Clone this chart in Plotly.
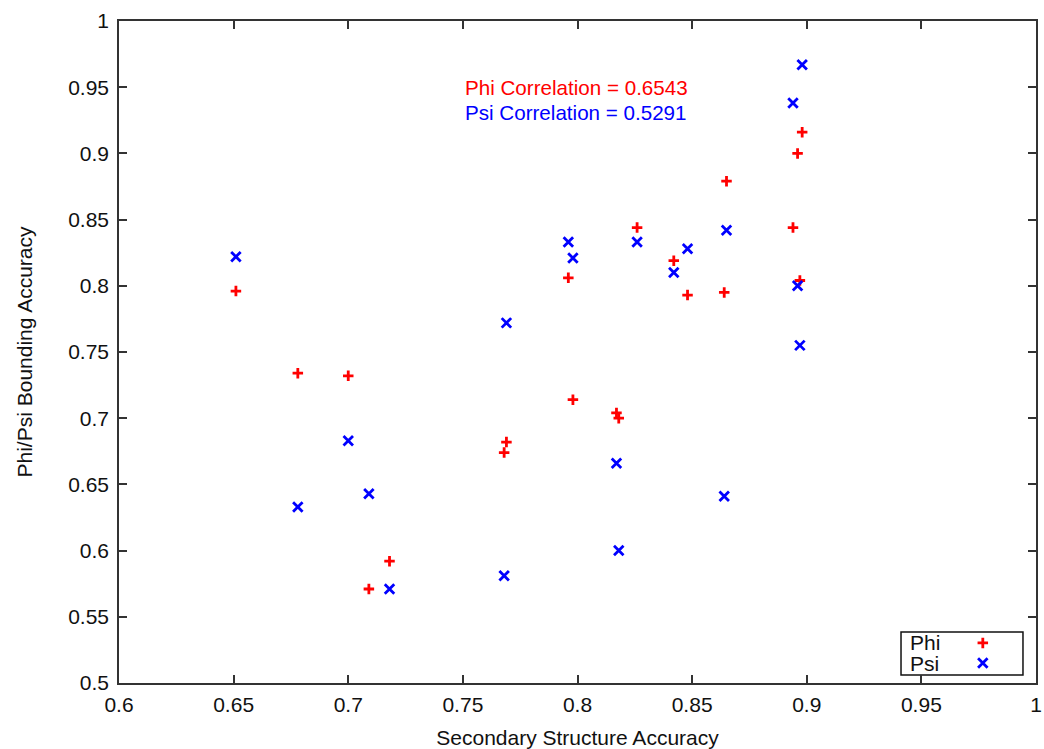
import plotly.graph_objects as go

# Secondary structure accuracy per protein (shared by both series)
phi_x = [0.651, 0.678, 0.700, 0.709, 0.718, 0.768, 0.769, 0.796, 0.798, 0.817,
         0.818, 0.826, 0.842, 0.848, 0.864, 0.865, 0.894, 0.896, 0.897, 0.898]
phi_y = [0.796, 0.734, 0.732, 0.571, 0.592, 0.674, 0.682, 0.806, 0.714, 0.704,
         0.700, 0.844, 0.819, 0.793, 0.795, 0.879, 0.844, 0.900, 0.804, 0.916]

psi_x = [0.651, 0.678, 0.700, 0.709, 0.718, 0.768, 0.769, 0.796, 0.798, 0.817,
         0.818, 0.826, 0.842, 0.848, 0.864, 0.865, 0.894, 0.896, 0.897, 0.898]
psi_y = [0.822, 0.633, 0.683, 0.643, 0.571, 0.581, 0.772, 0.833, 0.821, 0.666,
         0.600, 0.833, 0.810, 0.828, 0.641, 0.842, 0.938, 0.800, 0.755, 0.967]

x_ticks = [0.6, 0.65, 0.7, 0.75, 0.8, 0.85, 0.9, 0.95, 1.0]
x_labels = ["0.6", "0.65", "0.7", "0.75", "0.8", "0.85", "0.9", "0.95", "1"]
y_ticks = [0.5, 0.55, 0.6, 0.65, 0.7, 0.75, 0.8, 0.85, 0.9, 0.95, 1.0]
y_labels = ["0.5", "0.55", "0.6", "0.65", "0.7", "0.75", "0.8", "0.85", "0.9", "0.95", "1"]

phi_corr = 0.6543
psi_corr = 0.5291

RED = "#ff0000"
BLUE = "#0000ff"
AXIS = "#333333"
TEXT = "#111111"
FONT = "Liberation Sans, Arial, sans-serif"
FS = 21

phi_marker = dict(symbol="cross-thin", size=7.5, line=dict(color=RED, width=2.8))
psi_marker = dict(symbol="x-thin", size=9.5, line=dict(color=BLUE, width=2.8))

fig = go.Figure()
fig.add_trace(go.Scatter(x=phi_x, y=phi_y, mode="markers", name="Phi",
                         marker=phi_marker, showlegend=False))
fig.add_trace(go.Scatter(x=psi_x, y=psi_y, mode="markers", name="Psi",
                         marker=psi_marker, showlegend=False))

# Key samples live on an overlay axis spanning the plot area in [0, 1]
key_x = 0.942
key_rows = [0.0605, 0.0302]
fig.add_trace(go.Scatter(x=[key_x], y=[key_rows[0]], mode="markers", marker=phi_marker,
                         xaxis="x2", yaxis="y2", showlegend=False, hoverinfo="skip"))
fig.add_trace(go.Scatter(x=[key_x], y=[key_rows[1]], mode="markers", marker=psi_marker,
                         xaxis="x2", yaxis="y2", showlegend=False, hoverinfo="skip"))

axis_common = dict(
    showgrid=False, zeroline=False, showline=True, linecolor=AXIS, linewidth=1.5,
    mirror="ticks", ticks="inside", ticklen=8, tickwidth=1.5, tickcolor=AXIS,
    tickfont=dict(family=FONT, size=FS, color=TEXT), automargin=False,
)

fig.update_layout(
    width=1044, height=749,
    margin=dict(l=119, r=8, t=21, b=66, autoexpand=False),
    paper_bgcolor="white", plot_bgcolor="white",
    font=dict(family=FONT, size=FS, color=TEXT),
    xaxis=dict(range=[0.6, 1.0], tickvals=x_ticks, ticktext=x_labels,
               title=dict(text="Secondary Structure Accuracy", standoff=16,
                          font=dict(family=FONT, size=FS, color=TEXT)),
               ticklabelstandoff=2, **axis_common),
    yaxis=dict(range=[0.5, 1.0], tickvals=y_ticks, ticktext=y_labels,
               title=dict(text="Phi/Psi Bounding Accuracy", standoff=30,
                          font=dict(family=FONT, size=FS, color=TEXT)),
               ticklabelstandoff=4, **axis_common),
    xaxis2=dict(range=[0, 1], overlaying="x", visible=False, fixedrange=True),
    yaxis2=dict(range=[0, 1], overlaying="y", visible=False, fixedrange=True),
    showlegend=False,
)

fig.add_annotation(x=0.75, y=0.9497, xref="x", yref="y", xanchor="left", yanchor="middle",
                   text=f"Phi Correlation = {phi_corr:.4f}", showarrow=False,
                   font=dict(family=FONT, size=20.6, color=RED))
fig.add_annotation(x=0.75, y=0.9308, xref="x", yref="y", xanchor="left", yanchor="middle",
                   text=f"Psi Correlation = {psi_corr:.4f}", showarrow=False,
                   font=dict(family=FONT, size=20.6, color=BLUE))

# Key box with labels
fig.add_shape(type="rect", xref="paper", yref="paper", x0=0.8528, x1=0.9858, y0=0.0121, y1=0.0771,
              line=dict(color=TEXT, width=1.5), fillcolor="white", layer="below")
for label, yy in zip(["Phi", "Psi"], key_rows):
    fig.add_annotation(x=0.8605, y=yy, xref="paper", yref="paper", xanchor="left", yanchor="middle",
                       text=label, showarrow=False, font=dict(family=FONT, size=FS, color=TEXT))

fig.write_html("out.html")
